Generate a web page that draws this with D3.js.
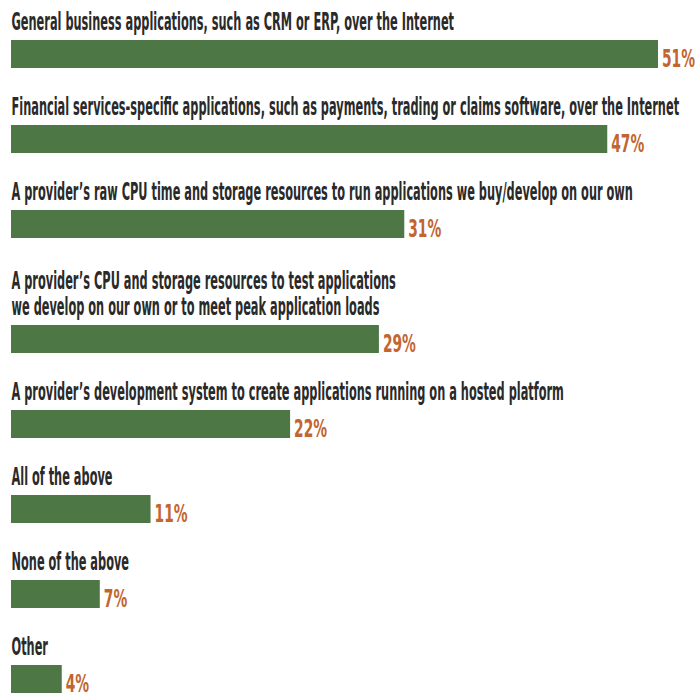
<!DOCTYPE html>
<html>
<head>
<meta charset="utf-8">
<script src="https://cdn.jsdelivr.net/npm/d3@7"></script>
<style>
  html, body { margin: 0; padding: 0; background: #ffffff; }
  svg { display: block; }
</style>
</head>
<body>
<script>
// Survey responses: share of firms using each cloud offering
const categories = [
  ["General business applications, such as CRM or ERP, over the Internet"],
  ["Financial services-specific applications, such as payments, trading or claims software, over the Internet"],
  ["A provider\u2019s raw CPU time and storage resources to run applications we buy/develop on our own"],
  ["A provider\u2019s CPU and storage resources to test applications",
   "we develop on our own or to meet peak application loads"],
  ["A provider\u2019s development system to create applications running on a hosted platform"],
  ["All of the above"],
  ["None of the above"],
  ["Other"]
];
const values = [51, 47, 31, 29, 22, 11, 7, 4];

const W = 700, H = 694;
const FONT = "'Liberation Sans Narrow', 'DejaVu Sans Condensed', 'Arial Narrow', sans-serif";
const BAR_H = 28;
const ROW = 85;        // distance between bar tops for a one-line label
const EXTRA_LINE = 30; // added space for each further label line
const LINE_H = 26.5;

const svg = d3.select("body").append("svg")
  .attr("width", W).attr("height", H);

const x = d3.scaleLinear().domain([0, 51]).range([11, 658]);

// cumulative vertical position of each bar
const extra = d3.cumsum(categories, c => c.length - 1);
const y = d3.scaleLinear().domain([0, 1]).range([40, 40 + ROW]);
const barTop = (i) => y(i) + extra[i] * EXTRA_LINE;

// horizontal condensing factors, derived from the text's natural width
const probe = svg.append("text").attr("font-family", FONT).attr("font-size", 24)
  .attr("font-weight", "bold").text(categories[0][0]);
const kLabel = 443 / probe.node().getComputedTextLength();
probe.text("51%");
const kValue = 33 / probe.node().getComputedTextLength();
probe.remove();

const rows = svg.selectAll("g.row")
  .data(values.map((v, i) => ({ v, lines: categories[i], i })))
  .join("g").attr("class", "row");

rows.append("rect")
  .attr("x", x(0))
  .attr("y", d => barTop(d.i))
  .attr("width", d => x(d.v) - x(0))
  .attr("height", BAR_H)
  .attr("fill", "#4d7846");

rows.each(function (d) {
  const g = d3.select(this);
  const n = d.lines.length;
  d.lines.forEach((line, j) => {
    const by = barTop(d.i) - 10 - (n - 1 - j) * LINE_H;
    g.append("text")
      .attr("transform", `translate(${x(0) + 0.5},${by}) scale(${kLabel},1)`)
      .attr("font-family", FONT)
      .attr("font-size", 24)
      .attr("font-weight", "bold")
      .attr("fill", "#2a2a2a")
      .text(line);
  });
});

rows.append("text")
  .attr("transform", d => `translate(${x(d.v) + 4},${barTop(d.i) + BAR_H - 1}) scale(${kValue},1)`)
  .attr("font-family", FONT)
  .attr("font-size", 24)
  .attr("font-weight", "bold")
  .attr("fill", "#c2652f")
  .text(d => d.v + "%");
</script>
</body>
</html>
